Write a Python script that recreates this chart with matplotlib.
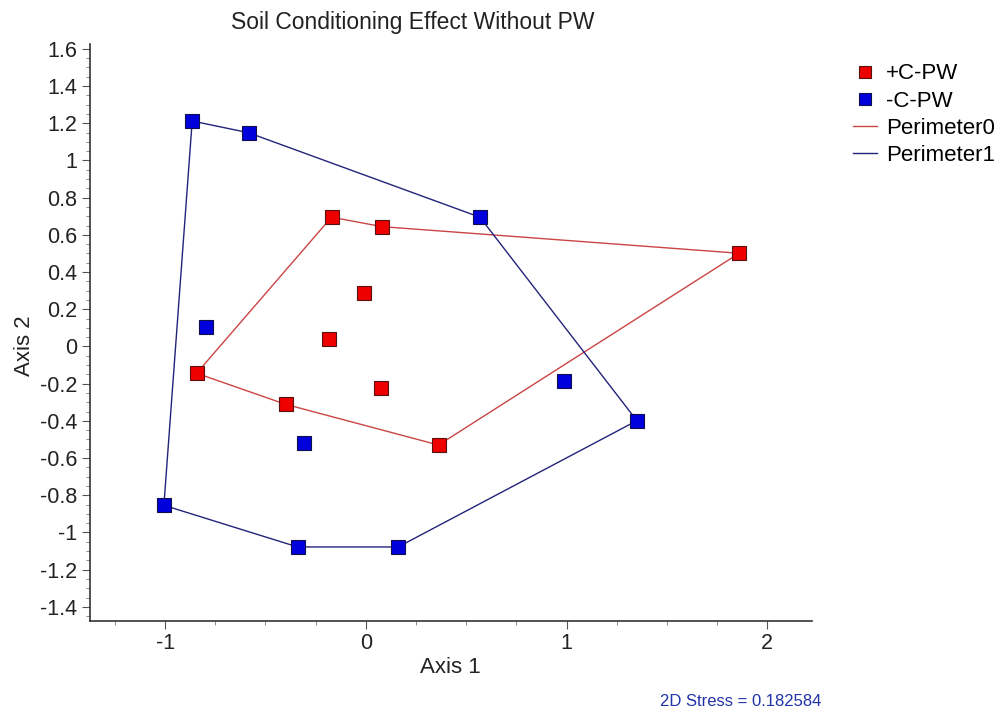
import matplotlib.pyplot as plt
from matplotlib.ticker import MultipleLocator, FormatStrFormatter

plt.rcParams['font.family'] = ['Liberation Sans', 'DejaVu Sans']
plt.rcParams['axes.unicode_minus'] = False

# +C-PW points (axis 1, axis 2)
red_x = [-0.171, 0.081, 1.859, -0.008, -0.184, -0.843, 0.075, -0.400, 0.362]
red_y = [0.695, 0.644, 0.501, 0.286, 0.039, -0.144, -0.225, -0.311, -0.530]
# -C-PW points
blue_x = [-0.865, -0.584, 0.568, -0.798, 0.988, 1.350, -0.310, -1.006, -0.340, 0.161]
blue_y = [1.212, 1.149, 0.695, 0.103, -0.184, -0.399, -0.519, -0.854, -1.078, -1.078]

# hull order (indices into the point lists)
red_hull = [0, 1, 2, 8, 7, 5, 0]
blue_hull = [0, 1, 2, 5, 9, 8, 7, 0]

fig = plt.figure(figsize=(10.08, 7.11), dpi=100)
ax = fig.add_axes([0.0893, 0.1266, 0.716, 0.8115])

ax.plot([red_x[i] for i in red_hull], [red_y[i] for i in red_hull],
        color='#cc4444', lw=1.0, label='Perimeter0', zorder=2)
ax.plot([blue_x[i] for i in blue_hull], [blue_y[i] for i in blue_hull],
        color='#23237a', lw=1.0, label='Perimeter1', zorder=2)
ax.plot(red_x, red_y, 's', ms=9.5, mfc='#ee0000', mec='#5a1010', mew=0.8,
        ls='none', label='+C-PW', zorder=3)
ax.plot(blue_x, blue_y, 's', ms=9.5, mfc='#0000dd', mec='#101050', mew=0.8,
        ls='none', label='-C-PW', zorder=3)

ax.set_xlim(-1.374, 2.221)
ax.set_ylim(-1.476, 1.626)

ax.xaxis.set_major_locator(MultipleLocator(1))
ax.xaxis.set_minor_locator(MultipleLocator(0.25))
ax.yaxis.set_major_locator(MultipleLocator(0.2))
ax.yaxis.set_minor_locator(MultipleLocator(0.05))
ax.xaxis.set_major_formatter(FormatStrFormatter('%g'))
ax.yaxis.set_major_formatter(plt.FuncFormatter(lambda v, p: '%g' % round(v, 2)))

for s in ['top', 'right']:
    ax.spines[s].set_visible(False)
for s in ['left', 'bottom']:
    ax.spines[s].set_color('#333333')
    ax.spines[s].set_linewidth(1.2)
ax.tick_params(which='major', direction='out', length=6, width=0.8,
               colors='#555555', labelcolor='#222222', labelsize=15.5, pad=3)
ax.tick_params(which='minor', direction='out', length=3, width=0.6, colors='#777777')

ax.set_xlabel('Axis 1', fontsize=16, color='#222222')
ax.set_ylabel('Axis 2', fontsize=16, color='#222222')
ax.xaxis.set_label_coords(0.499, -0.062)
ax.yaxis.set_label_coords(-0.076, 0.478)

fig.text(0.409, 0.968, 'Soil Conditioning Effect Without PW', ha='center',
         va='center', fontsize=16.5, color='#222222')
fig.text(0.815, 0.013, '2D Stress = 0.182584', ha='right', va='center',
         fontsize=12, color='#2233aa')

h, l = ax.get_legend_handles_labels()
order = [2, 3, 0, 1]
ax.legend([h[i] for i in order], [l[i] for i in order], loc='upper left',
          bbox_to_anchor=(0.846, 0.911), bbox_transform=fig.transFigure,
          frameon=False, fontsize=16, handlelength=1.1, handletextpad=0.4,
          labelspacing=0.28, borderpad=0, borderaxespad=0, markerscale=0.9)

fig.savefig('out.png', dpi=100)
